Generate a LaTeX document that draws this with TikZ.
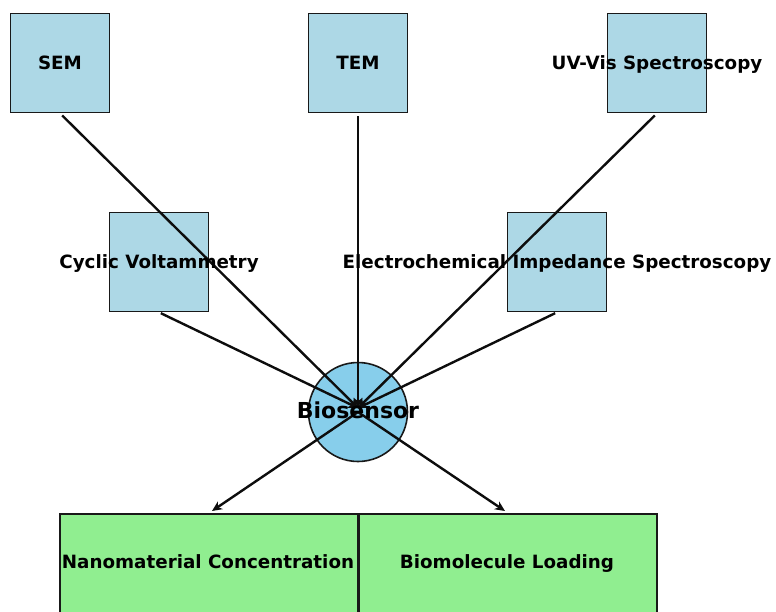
\documentclass[tikz,border=0pt]{standalone}
\usepackage{fontspec}
\setmainfont{DejaVu Sans}
\usetikzlibrary{arrows.meta}
\definecolor{lb}{HTML}{ADD8E6}
\definecolor{sb}{HTML}{87CEEB}
\definecolor{lg}{HTML}{90EE90}
\begin{document}
\begin{tikzpicture}[x=1pt,y=-1pt,
  sq/.style={draw=black!90,line width=1.6pt,fill=lb,minimum width=99pt,minimum height=99pt,inner sep=0pt},
  lbl/.style={font=\fontsize{18.3}{22}\selectfont\bfseries,anchor=mid,yshift=-4pt},
  gbox/.style={draw=black!90,line width=1.6pt,fill=lg,minimum width=298pt,minimum height=110pt,inner sep=0pt},
  arr/.style={line width=2.4pt,draw=black!95,-{Stealth[length=10pt,width=9pt,inset=3pt]}}]
\useasboundingbox (0,0) rectangle (776,611);
\node[gbox,anchor=north west] (nc) at (59,513) {};
\node[gbox,anchor=north west] (bl) at (358,513) {};
\node[sq] (sem) at (60,63) {};
\node[sq] (tem) at (358,63) {};
\node[sq] (uv) at (657,63) {};
\node[sq] (cv) at (159,262) {};
\node[sq] (eis) at (557,262) {};
\node[circle,draw=black!90,line width=1.6pt,fill=sb,minimum size=99pt,inner sep=0pt] (bio) at (358,412) {};
\coordinate (bt) at (358,408);
\coordinate (nct) at (212,511);
\coordinate (blt) at (505,511);
\draw[arr,shorten <=3pt] (sem.south) -- (bt);
\draw[arr,shorten <=3pt] (tem.south) -- (bt);
\draw[arr,shorten <=3pt] (uv.south) -- (bt);
\draw[arr,shorten <=2pt] (cv.south) -- (bt);
\draw[arr,shorten <=2pt] (eis.south) -- (bt);
\draw[arr] (bio.center) -- (nct);
\draw[arr] (bio.center) -- (blt);
\node[lbl] at (sem.center) {SEM};
\node[lbl] at (tem.center) {TEM};
\node[lbl] at (uv.center) {UV-Vis Spectroscopy};
\node[lbl] at (cv.center) {Cyclic Voltammetry};
\node[lbl] at (eis.center) {Electrochemical Impedance Spectroscopy};
\node[lbl,font=\fontsize{22}{26}\selectfont\bfseries] at (bio.center) {Biosensor};
\node[lbl] at (208,562) {Nanomaterial Concentration};
\node[lbl] at (507,562) {Biomolecule Loading};
\end{tikzpicture}
\end{document}
